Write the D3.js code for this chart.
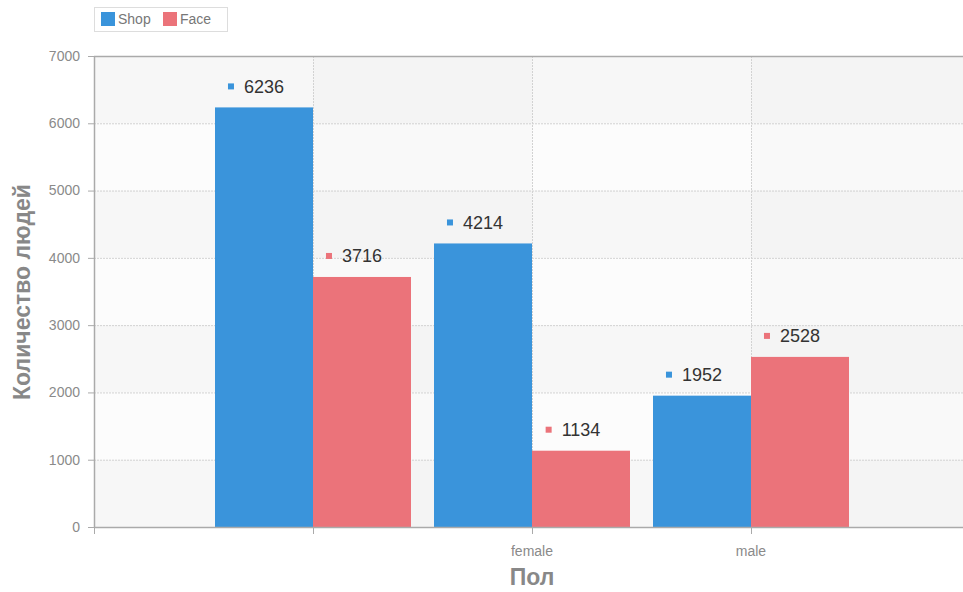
<!DOCTYPE html>
<html><head><meta charset="utf-8">
<script src="https://cdn.jsdelivr.net/npm/d3@7"></script>
<style>body{margin:0;background:#fff;}svg{display:block;font-family:"Liberation Sans",Arial,sans-serif;}</style>
</head><body><svg id="c" width="963" height="592"></svg>
<script>
const categories = ["", "female", "male"];
const seriesNames = ["Shop", "Face"];
const shopValues = [6236, 4214, 1952];
const faceValues = [3716, 1134, 2528];
const yTicks = [0, 1000, 2000, 3000, 4000, 5000, 6000, 7000];
const colors = ["#3a94db", "#eb737a"];

(function () {
const svg = d3.select("#c");
const pL = 94, pR = 963, pT = 56, pB = 527;
const x = d3.scaleLinear().domain([-1, 3]).range([94, 970]);
const y = d3.scaleLinear().domain([0, 7000]).range([pB, pT]);
const barW = 98;

// background bands
const bg = svg.append("g");
bg.append("rect").attr("x", pL).attr("y", pT).attr("width", pR-pL).attr("height", pB-pT).attr("fill", "#fcfcfc");
for (let i = 0; i < 7; i++) {
  if (i % 2 === 0) {
    const v0 = 6000 - i*1000;
    bg.append("rect").attr("x", pL).attr("y", y(v0+1000)).attr("width", pR-pL)
      .attr("height", y(v0)-y(v0+1000)).attr("fill", "#000").attr("opacity", 0.02);
  }
}
[0, 2].forEach(i => {
  const x0 = x(i), x1 = Math.min(x(i+1), pR);
  bg.append("rect").attr("x", x0).attr("y", pT).attr("width", x1-x0).attr("height", pB-pT)
    .attr("fill", "#000").attr("opacity", 0.012);
});

// gridlines
const grid = svg.append("g").attr("stroke", "#d2d2d2").attr("stroke-dasharray", "2,1");
yTicks.filter(t => t > 0 && t < 7000).forEach(t => {
  grid.append("line").attr("x1", pL).attr("x2", pR).attr("y1", y(t)+0.5).attr("y2", y(t)+0.5);
});
categories.forEach((c, i) => {
  grid.append("line").attr("x1", x(i)+0.5).attr("x2", x(i)+0.5).attr("y1", pT).attr("y2", pB);
});

// bars
const series = [shopValues, faceValues];
series.forEach((vals, s) => {
  svg.append("g").selectAll("rect").data(vals).join("rect")
    .attr("x", (d, i) => s === 0 ? x(i) - barW : x(i))
    .attr("width", barW)
    .attr("y", d => y(d))
    .attr("height", d => pB - y(d))
    .attr("fill", colors[s]);
});

// value labels
series.forEach((vals, s) => {
  const g = svg.append("g");
  vals.forEach((v, i) => {
    const cx = s === 0 ? x(i) - barW/2 : x(i) + barW/2;
    const cy = y(v) - 21;
    const t = g.append("text").attr("x", cx).attr("y", cy).attr("dy", "0.35em")
      .attr("text-anchor", "middle").attr("font-size", 18).attr("fill", "#333").text(v);
    const w = t.node().getComputedTextLength();
    g.append("rect").attr("x", cx - w/2 - 16).attr("y", cy - 3).attr("width", 6).attr("height", 6).attr("fill", colors[s]);
  });
});

// axes frame
const axisColor = "#aaa";
svg.append("line").attr("x1", pL).attr("x2", pR).attr("y1", pT+0.5).attr("y2", pT+0.5).attr("stroke", axisColor).attr("stroke-width", 1.5);
svg.append("line").attr("x1", pL+0.5).attr("x2", pL+0.5).attr("y1", pT).attr("y2", pB).attr("stroke", axisColor).attr("stroke-width", 1.5);
svg.append("line").attr("x1", pL).attr("x2", pR).attr("y1", pB+0.5).attr("y2", pB+0.5).attr("stroke", axisColor).attr("stroke-width", 1.5);

// y axis ticks & labels
const ya = svg.append("g");
yTicks.forEach(t => {
  ya.append("line").attr("x1", pL-6).attr("x2", pL).attr("y1", y(t)+0.5).attr("y2", y(t)+0.5).attr("stroke", axisColor);
  ya.append("text").attr("x", pL-14).attr("y", y(t)).attr("dy", "0.35em").attr("text-anchor", "end")
    .attr("font-size", 14).attr("fill", "#8a8a8a").text(t);
});

// x axis ticks & labels
const xa = svg.append("g");
[-1, 0, 1, 2].forEach(i => {
  xa.append("line").attr("x1", x(i)+0.5).attr("x2", x(i)+0.5).attr("y1", pB).attr("y2", pB+7).attr("stroke", axisColor);
});
categories.forEach((c, i) => {
  xa.append("text").attr("x", x(i)).attr("y", 551).attr("dy", "0.35em").attr("text-anchor", "middle")
    .attr("font-size", 14).attr("fill", "#8a8a8a").text(c);
});

// axis titles
svg.append("text").attr("x", 532).attr("y", 577).attr("dy", "0.35em").attr("text-anchor", "middle")
  .attr("font-size", 23).attr("font-weight", "bold").attr("fill", "#888").text("Пол");
svg.append("text").attr("transform", "translate(22,292) rotate(-90)").attr("dy", "0.35em").attr("text-anchor", "middle")
  .attr("font-size", 23).attr("font-weight", "bold").attr("fill", "#888").text("Количество людей");

// legend
const lg = svg.append("g");
lg.append("rect").attr("x", 94.5).attr("y", 7.5).attr("width", 133).attr("height", 24).attr("fill", "#fff").attr("stroke", "#ddd");
const legX = [101, 163];
seriesNames.forEach((n, s) => {
  lg.append("rect").attr("x", legX[s]).attr("y", 12).attr("width", 14).attr("height", 14).attr("fill", colors[s]);
  lg.append("text").attr("x", legX[s] + 17).attr("y", 19.5).attr("dy", "0.35em").attr("font-size", 14).attr("fill", "#777").text(n);
});
})();
</script></body></html>
